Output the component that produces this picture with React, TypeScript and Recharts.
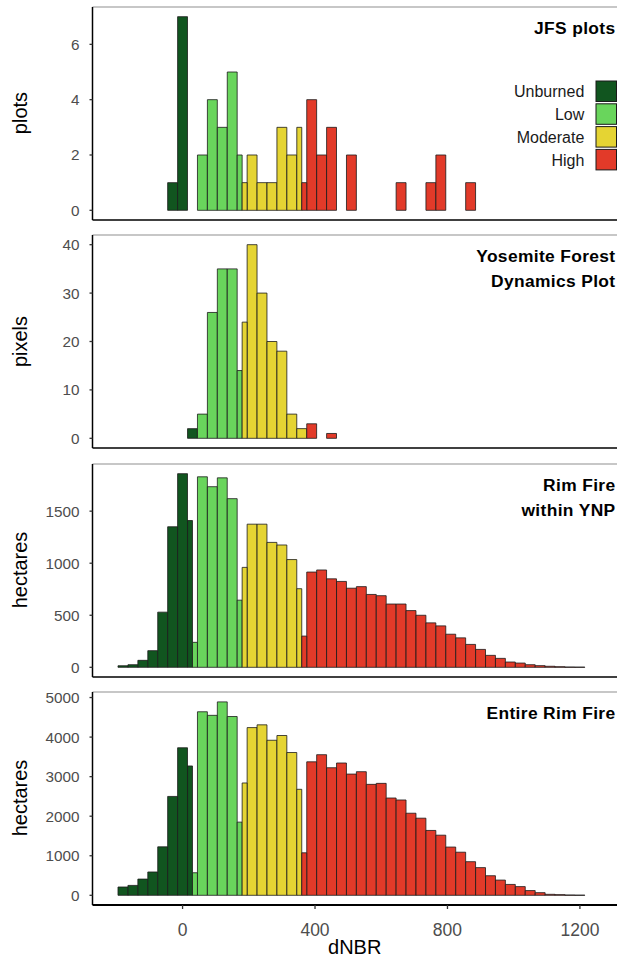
import React from "react";
import { Bar, BarChart, Cell, ReferenceLine, XAxis, YAxis } from "recharts";

const categories = ["Unburned", "Low", "Moderate", "High"];
const categoryColors = ["#11551f", "#69d55c", "#e5d433", "#e23a29"];

// bin centres (binwidth 30) that each severity class falls into
const unburnedBins = [-180, -150, -120, -90, -60, -30, 0, 30];
const lowBins = [30, 60, 90, 120, 150, 180];
const moderateBins = [180, 210, 240, 270, 300, 330, 360];
const highBins = [
  360, 390, 420, 450, 480, 510, 540, 570, 600, 630, 660, 690, 720, 750, 780,
  810, 840, 870, 900, 930, 960, 990, 1020, 1050, 1080, 1110, 1140, 1170, 1200,
];
const binSets = [unburnedBins, lowBins, moderateBins, highBins];

const xTicks = [0, 400, 800, 1200];
const xDomain = [-272, 1312];

// JFS plots (plots)
const jfsUnburned = [0, 0, 0, 0, 0, 1, 7, 0];
const jfsLow = [0, 2, 4, 3, 5, 2];
const jfsModerate = [1, 2, 1, 1, 3, 2, 3];
const jfsHigh = [1, 4, 2, 3, 0, 2, 0, 0, 0, 0, 1, 0, 0, 1, 2, 0, 0, 1, 0, 0, 0, 0, 0, 0, 0, 0, 0, 0, 0];

// Yosemite Forest Dynamics Plot (pixels)
const yfdpUnburned = [0, 0, 0, 0, 0, 0, 0, 2];
const yfdpLow = [0, 5, 26, 35, 35, 14];
const yfdpModerate = [24, 40, 30, 20, 18, 5, 2];
const yfdpHigh = [0, 3, 0, 1, 0, 0, 0, 0, 0, 0, 0, 0, 0, 0, 0, 0, 0, 0, 0, 0, 0, 0, 0, 0, 0, 0, 0, 0, 0];

// Rim Fire within YNP (hectares)
const ynpUnburned = [15, 25, 67, 160, 530, 1350, 1860, 1410];
const ynpLow = [240, 1830, 1735, 1820, 1620, 645];
const ynpModerate = [960, 1375, 1375, 1200, 1175, 1035, 755];
const ynpHigh = [
  300, 915, 935, 850, 825, 760, 775, 700, 688, 608, 608, 545, 500, 427, 398,
  318, 283, 220, 172, 115, 86, 51, 41, 25, 16, 10, 6, 3, 2,
];

// Entire Rim Fire (hectares)
const rimUnburned = [210, 250, 410, 590, 1225, 2500, 3730, 3270];
const rimLow = [570, 4640, 4550, 4890, 4520, 1850];
const rimModerate = [2840, 4240, 4310, 3920, 4040, 3610, 2680];
const rimHigh = [
  1075, 3375, 3555, 3225, 3345, 3065, 3125, 2805, 2830, 2460, 2410, 2075, 1950,
  1640, 1520, 1220, 1090, 850, 700, 495, 385, 275, 220, 120, 67, 25, 17, 8, 4,
];

const FONT = "'Liberation Sans', Arial, Helvetica, sans-serif";
const PAD = 4;

const panels = [
  {
    title: ["JFS plots"],
    yLabel: "plots",
    counts: [jfsUnburned, jfsLow, jfsModerate, jfsHigh],
    yDomain: [-0.35, 7.35],
    yTicks: [0, 2, 4, 6],
    top: 6.5,
    bottom: 219.5,
  },
  {
    title: ["Yosemite Forest", "Dynamics Plot"],
    yLabel: "pixels",
    counts: [yfdpUnburned, yfdpLow, yfdpModerate, yfdpHigh],
    yDomain: [-2, 42],
    yTicks: [0, 10, 20, 30, 40],
    top: 235,
    bottom: 448,
  },
  {
    title: ["Rim Fire", "within YNP"],
    yLabel: "hectares",
    counts: [ynpUnburned, ynpLow, ynpModerate, ynpHigh],
    yDomain: [-93, 1953],
    yTicks: [0, 500, 1000, 1500],
    top: 463.5,
    bottom: 676.5,
  },
  {
    title: ["Entire Rim Fire"],
    yLabel: "hectares",
    counts: [rimUnburned, rimLow, rimModerate, rimHigh],
    yDomain: [-245, 5140],
    yTicks: [0, 1000, 2000, 3000, 4000, 5000],
    top: 691.5,
    bottom: 904.5,
  },
];

type Row = {
  center: number;
  full: number | null;
  fullCat: number;
  left: number | null;
  leftCat: number;
  right: number | null;
  rightCat: number;
};

// a bin holding one class is drawn full width, a bin shared by two classes is split in halves
function buildRows(counts: number[][]): Row[] {
  const byCenter = new Map<number, { cat: number; n: number }[]>();
  binSets.forEach((bins, cat) =>
    bins.forEach((c, i) => {
      if (!byCenter.has(c)) byCenter.set(c, []);
      const n = counts[cat][i];
      if (n > 0) byCenter.get(c)!.push({ cat, n });
    })
  );
  return [...byCenter.keys()]
    .sort((a, b) => a - b)
    .map((center) => {
      const parts = byCenter.get(center)!;
      const row: Row = { center, full: null, fullCat: 0, left: null, leftCat: 0, right: null, rightCat: 0 };
      if (parts.length === 1) {
        row.full = parts[0].n;
        row.fullCat = parts[0].cat;
      } else if (parts.length === 2) {
        row.left = parts[0].n;
        row.leftCat = parts[0].cat;
        row.right = parts[1].n;
        row.rightCat = parts[1].cat;
      }
      return row;
    });
}

const barStroke = "#1a1a1a";

function Panel({ panel, isLast }: { panel: (typeof panels)[number]; isLast: boolean }) {
  const rows = buildRows(panel.counts);
  const h = panel.bottom - panel.top;
  const axisH = isLast ? 48 : 0;
  return (
    <div style={{ position: "absolute", left: 0, top: panel.top - PAD }}>
      <BarChart
        width={618}
        height={h + PAD + (isLast ? axisH : PAD)}
        data={rows}
        margin={{ top: PAD, right: 1, bottom: isLast ? 0 : PAD, left: 0 }}
        barGap={0}
        barCategoryGap={0}
        style={{ fontFamily: FONT }}
      >
        <XAxis
          xAxisId="full"
          type="number"
          dataKey="center"
          domain={xDomain}
          allowDataOverflow
          ticks={xTicks}
          interval={0}
          height={axisH}
          hide={!isLast}
          tick={{ fill: "#4d4d4d", fontSize: 17.5 }}
          tickLine={{ stroke: "#333", strokeWidth: 1.3 }}
          tickSize={4}
          tickMargin={14.5}
          axisLine={{ stroke: "#000", strokeWidth: 1.9 }}
        />
        <XAxis xAxisId="half" type="number" dataKey="center" domain={xDomain} allowDataOverflow hide />
        <YAxis
          type="number"
          domain={panel.yDomain}
          allowDataOverflow
          ticks={panel.yTicks}
          interval={0}
          width={92.5}
          tickSize={3}
          tickMargin={10}
          tick={{ fill: "#4d4d4d", fontSize: 15.3 }}
          tickLine={{ stroke: "#333", strokeWidth: 1.3 }}
          axisLine={{ stroke: "#000", strokeWidth: 1.5 }}
        />
        <ReferenceLine xAxisId="full" y={panel.yDomain[1]} stroke="#8f8f8f" strokeWidth={1} />
        {!isLast && <ReferenceLine xAxisId="full" y={panel.yDomain[0]} stroke="#000" strokeWidth={1.3} />}
        <Bar xAxisId="full" dataKey="full" barSize={9.9} stroke={barStroke} strokeWidth={0.8} isAnimationActive={false}>
          {rows.map((r, i) => (
            <Cell key={i} fill={categoryColors[r.fullCat]} />
          ))}
        </Bar>
        <Bar xAxisId="half" dataKey="left" barSize={4.95} stroke={barStroke} strokeWidth={0.8} isAnimationActive={false}>
          {rows.map((r, i) => (
            <Cell key={i} fill={categoryColors[r.leftCat]} />
          ))}
        </Bar>
        <Bar xAxisId="half" dataKey="right" barSize={4.95} stroke={barStroke} strokeWidth={0.8} isAnimationActive={false}>
          {rows.map((r, i) => (
            <Cell key={i} fill={categoryColors[r.rightCat]} />
          ))}
        </Bar>
      </BarChart>
    </div>
  );
}

export default function App() {
  return (
    <div
      style={{
        position: "absolute",
        left: 0,
        top: 0,
        width: 618,
        height: 964,
        overflow: "hidden",
        background: "#fff",
        fontFamily: FONT,
      }}
    >
      {panels.map((p, i) => (
        <Panel key={i} panel={p} isLast={i === panels.length - 1} />
      ))}
      <svg width={618} height={964} style={{ position: "absolute", left: 0, top: 0, pointerEvents: "none" }}>
        {panels.map((p, i) => {
          const cy = (p.top + p.bottom) / 2;
          return (
            <g key={i}>
              <text
                x={26.5}
                y={cy}
                transform={`rotate(-90 26.5 ${cy})`}
                textAnchor="middle"
                fontSize={20}
                fontFamily={FONT}
                fill="#000"
              >
                {p.yLabel}
              </text>
              {p.title.map((t, j) => (
                <text
                  key={j}
                  x={615.5}
                  y={p.top + 27.3 + j * 24.7}
                  textAnchor="end"
                  fontSize={17.4}
                  fontWeight="bold"
                  letterSpacing={0.35}
                  fontFamily={FONT}
                  fill="#000"
                >
                  {t}
                </text>
              ))}
            </g>
          );
        })}
        <text x={354.7} y={953.5} textAnchor="middle" fontSize={20} fontFamily={FONT} fill="#000">
          dNBR
        </text>
        {categories.map((c, i) => (
          <g key={c}>
            <rect
              x={596}
              y={81 + i * 22.8}
              width={20.5}
              height={20.5}
              fill={categoryColors[i]}
              stroke="#1a1a1a"
              strokeWidth={1}
            />
            <text
              x={584.3}
              y={97.3 + i * 22.8}
              textAnchor="end"
              fontSize={16}
              fontFamily={FONT}
              fill="#1a1a1a"
            >
              {c}
            </text>
          </g>
        ))}
      </svg>
    </div>
  );
}
